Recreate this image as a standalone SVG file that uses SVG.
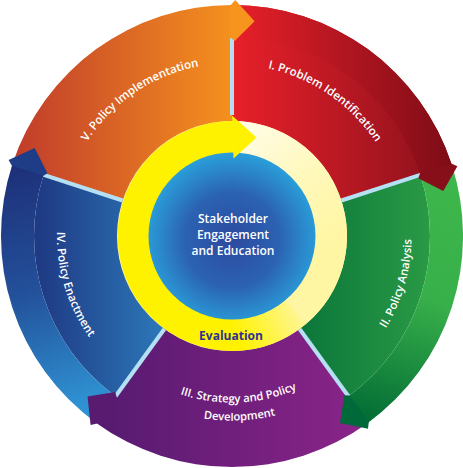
<svg xmlns="http://www.w3.org/2000/svg" width="463" height="468" viewBox="0 0 463 468">
<defs>
  <linearGradient id="gOrange" gradientUnits="userSpaceOnUse" x1="10" y1="0" x2="240" y2="0">
    <stop offset="0" stop-color="#BF3A2B"/><stop offset="1" stop-color="#F7941E"/>
  </linearGradient>
  <linearGradient id="gRed" gradientUnits="userSpaceOnUse" x1="232" y1="0" x2="460" y2="0">
    <stop offset="0" stop-color="#E8202A"/><stop offset="1" stop-color="#85101B"/>
  </linearGradient>
  <linearGradient id="gRedBand" gradientUnits="userSpaceOnUse" x1="232" y1="0" x2="455" y2="0">
    <stop offset="0" stop-color="#E8202A"/><stop offset="1" stop-color="#7C0C16"/>
  </linearGradient>
  <linearGradient id="gGreen" gradientUnits="userSpaceOnUse" x1="300" y1="0" x2="430" y2="0">
    <stop offset="0" stop-color="#0B763A"/><stop offset="1" stop-color="#2A9A45"/>
  </linearGradient>
  <linearGradient id="gGreenBand" gradientUnits="userSpaceOnUse" x1="445" y1="180" x2="360" y2="425">
    <stop offset="0" stop-color="#3DB64B"/><stop offset="0.45" stop-color="#38B04A"/><stop offset="1" stop-color="#006934"/>
  </linearGradient>
  <linearGradient id="gPurple" gradientUnits="userSpaceOnUse" x1="90" y1="0" x2="370" y2="0">
    <stop offset="0" stop-color="#541A6F"/><stop offset="1" stop-color="#8C2489"/>
  </linearGradient>
  <linearGradient id="gBlue" gradientUnits="userSpaceOnUse" x1="40" y1="0" x2="165" y2="0">
    <stop offset="0" stop-color="#1F3B85"/><stop offset="1" stop-color="#2C78B9"/>
  </linearGradient>
  <linearGradient id="gBlueBand" gradientUnits="userSpaceOnUse" x1="20" y1="160" x2="100" y2="400">
    <stop offset="0" stop-color="#1D2F78"/><stop offset="0.5" stop-color="#23509A"/><stop offset="1" stop-color="#2F93D3"/>
  </linearGradient>
  <linearGradient id="gYellowR" gradientUnits="userSpaceOnUse" x1="245" y1="125" x2="335" y2="245">
    <stop offset="0" stop-color="#FFFCE6"/><stop offset="0.55" stop-color="#FFF8B8"/><stop offset="1" stop-color="#FFF6A3"/>
  </linearGradient>
  <linearGradient id="gYellowB" gradientUnits="userSpaceOnUse" x1="300" y1="305" x2="238" y2="337">
    <stop offset="0" stop-color="#FFF6A0"/><stop offset="1" stop-color="#FFF200"/>
  </linearGradient>
  <radialGradient id="gCenter" gradientUnits="userSpaceOnUse" cx="232" cy="240" r="86">
    <stop offset="0" stop-color="#2C4A9F"/><stop offset="0.55" stop-color="#2B62B2"/><stop offset="1" stop-color="#2A9DD9"/>
  </radialGradient>
  <path id="tpI" d="M 184.6 70.7 A 173 173 0 0 1 403.1 218.0"/>
  <path id="tpV" d="M 59.9 217.9 A 173 173 0 0 1 279.7 69.7"/>
  <path id="tpII" d="M 304.8 399.5 A 178 178 0 0 0 380.4 135.9"/>
  <path id="tpIV" d="M 85.2 140.7 A 175 175 0 0 0 163.6 397.1"/>
  <path id="tpIIIa" d="M 87.8 319.3 A 166.5 166.5 0 0 0 376.2 319.3"/>
  <path id="tpIIIb" d="M 72.2 328.3 A 184.5 184.5 0 0 0 391.8 328.3"/>
</defs>
<style>
  .lbl { font-family: "Open Sans", "Noto Sans", "Liberation Sans", sans-serif; font-size: 11.5px; font-weight: 600; fill: #FFFFFF; }
  .lbl3 { font-size: 11.2px; }
  .ctr { font-family: "Open Sans", "Noto Sans", "Liberation Sans", sans-serif; font-size: 12px; font-weight: 600; fill: #FFFFFF; text-anchor: middle; }
  .eval { font-family: "Open Sans", "Noto Sans", "Liberation Sans", sans-serif; font-size: 12px; font-weight: 700; fill: #2E3192; text-anchor: middle; }
  .sep { stroke: #B5DFF3; stroke-width: 4; fill: none; }
</style>
<rect width="463" height="468" fill="#FFFFFF"/>

<g id="seg-V-policy-implementation">
  <path fill="url(#gOrange)" d="M 125.5 201.4 L 12.3 164.6 A 231 231 0 0 1 232 5 L 232 124 A 112 112 0 0 0 125.5 201.4 Z"/>
  <text class="lbl"><textPath href="#tpV" startOffset="50%" text-anchor="middle">V. Policy Implementation</textPath></text>
</g>
<g id="seg-I-problem-identification">
  <path fill="url(#gRed)" d="M 232 124 L 232 5 A 231 231 0 0 1 451.7 164.6 L 338.5 201.4 A 112 112 0 0 0 232 124 Z"/>
  <path fill="url(#gRedBand)" d="M 232 38 L 232 5 A 231 231 0 0 1 451.7 164.6 L 420.3 174.8 A 198 198 0 0 0 232 38 Z"/>
  <text class="lbl"><textPath href="#tpI" startOffset="50.5%" text-anchor="middle">I. Problem Identification</textPath></text>
</g>
<g id="seg-II-policy-analysis">
  <path fill="url(#gGreen)" d="M 338.5 201.4 L 420.3 174.8 A 198 198 0 0 1 348.4 396.2 L 297.8 326.6 A 112 112 0 0 0 338.5 201.4 Z"/>
  <path fill="url(#gGreenBand)" d="M 420.3 174.8 L 451.7 164.6 A 231 231 0 0 1 367.8 422.9 L 348.4 396.2 A 198 198 0 0 0 420.3 174.8 Z"/>
  <text class="lbl"><textPath href="#tpII" startOffset="50%" text-anchor="middle">II. Policy Analysis</textPath></text>
</g>
<g id="seg-III-strategy-policy-development">
  <path fill="url(#gPurple)" d="M 297.8 326.6 L 367.8 422.9 A 231 231 0 0 1 96.2 422.9 L 166.2 326.6 A 112 112 0 0 0 297.8 326.6 Z"/>
  <text class="lbl lbl3"><textPath href="#tpIIIa" startOffset="52%" text-anchor="middle">III. Strategy and Policy</textPath></text>
  <text class="lbl lbl3"><textPath href="#tpIIIb" startOffset="52%" text-anchor="middle">Development</textPath></text>
</g>
<g id="seg-IV-policy-enactment">
  <path fill="url(#gBlue)" d="M 166.2 326.6 L 115.6 396.2 A 198 198 0 0 1 43.7 174.8 L 125.5 201.4 A 112 112 0 0 0 166.2 326.6 Z"/>
  <path fill="url(#gBlueBand)" d="M 115.6 396.2 L 96.2 422.9 A 231 231 0 0 1 12.3 164.6 L 43.7 174.8 A 198 198 0 0 0 115.6 396.2 Z"/>
  <text class="lbl"><textPath href="#tpIV" startOffset="50%" text-anchor="middle">IV. Policy Enactment</textPath></text>
</g>

<g id="connectors">
  <g id="separators">
    <line class="sep" x1="232" y1="115" x2="232" y2="38"/>
    <line class="sep" x1="341.4" y1="200.5" x2="420.3" y2="174.8"/>
    <line class="sep" x1="299.6" y1="329" x2="348.4" y2="396.2"/>
    <line class="sep" x1="164.4" y1="329" x2="115.6" y2="396.2"/>
    <line class="sep" x1="122.6" y1="200.5" x2="43.7" y2="174.8"/>
  </g>
  <g id="arrowheads">
    <polygon fill="#F7941E" points="230.8,5 235.3,0 254.6,21.2 234.7,41 231,38"/>
    <polygon fill="#870F1A" points="451.3,163.5 457.4,166.2 443.3,191.1 418.3,178.3 420,173.8"/>
    <polygon fill="#00693A" points="368.8,422.2 368,428.8 340,423.1 344.4,395.3 349.2,395.6"/>
    <polygon fill="#581B70" points="97.2,423.6 90.6,425 87.5,396.5 115.2,392.1 116.5,396.8"/>
    <polygon fill="#1F3C87" points="11.9,165.8 8.6,159.9 34.7,148.1 47.4,173.2 43.4,175.8"/>
  </g>
</g>

<g id="evaluation-ring">
  <circle cx="232" cy="236" r="99" fill="none" stroke="#FFF6A3" stroke-width="32"/>
  <path d="M 232 137 A 99 99 0 0 1 295.6 311.8" fill="none" stroke="url(#gYellowR)" stroke-width="32"/>
  <path d="M 295.6 311.8 A 99 99 0 0 1 230.3 335" fill="none" stroke="url(#gYellowB)" stroke-width="32"/>
  <path d="M 232 335 A 99 99 0 1 1 233.7 137" fill="none" stroke="#FFF200" stroke-width="32"/>
</g>

<g id="center">
  <circle cx="232" cy="236" r="83.5" fill="url(#gCenter)"/>
  <text class="ctr" x="233" y="223">Stakeholder</text>
  <text class="ctr" x="233" y="239">Engagement</text>
  <text class="ctr" x="233" y="255">and Education</text>
</g>

<g id="evaluation">
  <polygon fill="#FFF200" points="232,115.5 256.5,137.5 233.5,158.5"/>
  <text class="eval" x="231" y="340">Evaluation</text>
</g>
</svg>
